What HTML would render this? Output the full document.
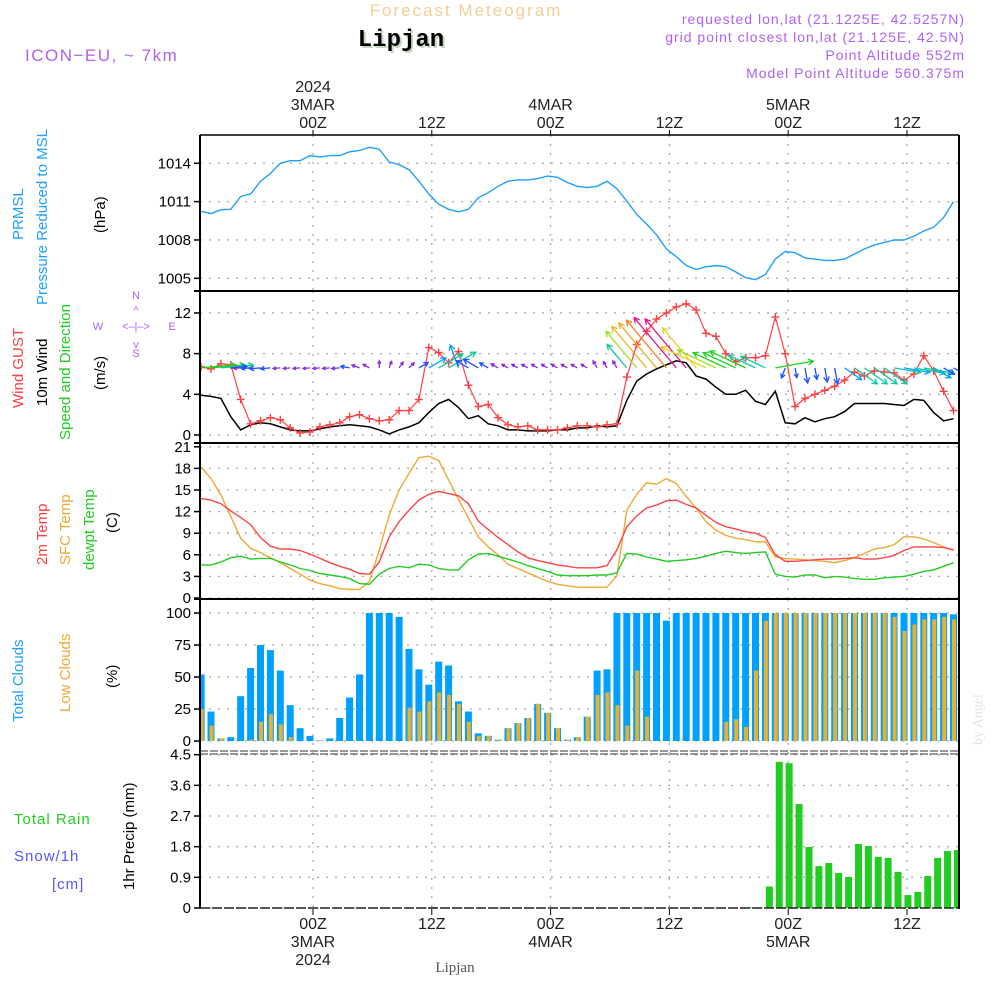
<!DOCTYPE html>
<html><head><meta charset="utf-8">
<style>
html,body{margin:0;padding:0;background:#fff;}
svg{display:block;font-family:"Liberation Sans",sans-serif;}
</style></head>
<body>
<svg id="chart" width="1000" height="1000" viewBox="0 0 1000 1000" xmlns="http://www.w3.org/2000/svg">
<rect x="0" y="0" width="1000" height="1000" fill="#fff"/>
<text x="466" y="16" text-anchor="middle" font-size="17" fill="#f2cf95" letter-spacing="2">Forecast Meteogram</text>
<text x="403" y="48" text-anchor="middle" font-size="24" font-weight="bold" font-family="Liberation Mono,monospace" fill="#c8d8c0">Lipjan</text>
<text x="401" y="46" text-anchor="middle" font-size="24" font-weight="bold" font-family="Liberation Mono,monospace" fill="#000">Lipjan</text>
<text x="25" y="61" font-size="17" fill="#b060f0" letter-spacing="1.5">ICON−EU, ~ 7km</text>
<g font-size="14" fill="#b060f0" text-anchor="end" letter-spacing="1">
<text x="965" y="24">requested lon,lat (21.1225E, 42.5257N)</text>
<text x="965" y="42">grid point closest lon,lat (21.125E, 42.5N)</text>
<text x="965" y="60">Point Altitude 552m</text>
<text x="965" y="78">Model Point Altitude 560.375m</text>
</g>
<text transform="translate(982,745) rotate(-90)" font-size="14" fill="#e4e4e4" font-family="Liberation Serif,serif">by Angel</text>
<text x="455" y="972" text-anchor="middle" font-size="15" fill="#555" font-family="Liberation Serif,serif">Lipjan</text>

<g font-size="15">
<text transform="translate(23,240) rotate(-90)" fill="#1ea0ff">PRMSL</text>
<text transform="translate(47,305) rotate(-90)" fill="#1ea0ff">Pressure Reduced to MSL</text>
<text transform="translate(105,233) rotate(-90)" fill="#000">(hPa)</text>
<text transform="translate(23,408) rotate(-90)" fill="#ff4040">Wind GUST</text>
<text transform="translate(47,406) rotate(-90)" fill="#000">10m Wind</text>
<text transform="translate(70,440) rotate(-90)" fill="#22cc22">Speed and Direction</text>
<text transform="translate(105,390) rotate(-90)" fill="#000">(m/s)</text>
<text transform="translate(47,565) rotate(-90)" fill="#ff4040">2m Temp</text>
<text transform="translate(70,565) rotate(-90)" fill="#f0a830">SFC Temp</text>
<text transform="translate(94,570) rotate(-90)" fill="#22cc22">dewpt Temp</text>
<text transform="translate(117,533) rotate(-90)" fill="#000">(C)</text>
<text transform="translate(23,722) rotate(-90)" fill="#1ea0ff">Total Clouds</text>
<text transform="translate(70,712) rotate(-90)" fill="#f0a830">Low Clouds</text>
<text transform="translate(117,688) rotate(-90)" fill="#000">(%)</text>
<text transform="translate(134,890) rotate(-90)" fill="#000">1hr Precip (mm)</text>
<text x="14" y="824" fill="#22cc22" letter-spacing="1">Total   Rain</text>
<text x="14" y="861" fill="#5555ff" letter-spacing="1">Snow/1h</text>
<text x="52" y="889" fill="#5555ff" letter-spacing="1">[cm]</text>
</g>
<g font-size="11" fill="#b060f0" stroke="none">
<text x="136" y="299" text-anchor="middle">N</text>
<text x="136" y="357" text-anchor="middle">S</text>
<text x="98" y="330" text-anchor="middle">W</text>
<text x="172" y="330" text-anchor="middle">E</text>
<text x="136" y="330" text-anchor="middle">&lt;–|–&gt;</text>
<text x="136" y="314" text-anchor="middle">^</text>
<text x="136" y="348" text-anchor="middle">v</text>
</g>
<g id="plot"></g>
</svg>
<script>
const NS = "http://www.w3.org/2000/svg";
const hours = Array.from({length:77},(_,i)=>i-11);
const pressure = [1010.24,1010.06,1010.37,1010.4,1011.4,1011.6,1012.6,1013.2,1014.0,1014.2,1014.2,
1014.6,1014.5,1014.6,1014.6,1014.9,1015.0,1015.25,1015.1,1014.1,1013.9,1013.5,1012.6,
1011.6,1010.8,1010.4,1010.2,1010.4,1011.3,1011.7,1012.2,1012.6,1012.7,1012.7,1012.8,
1013.0,1012.9,1012.5,1012.2,1012.1,1012.2,1012.6,1012.0,1011.05,1010.0,1009.25,1008.4,
1007.3,1006.7,1006.0,1005.7,1005.9,1006.0,1005.9,1005.5,1005.05,1004.9,1005.3,1006.5,
1007.1,1007.0,1006.6,1006.5,1006.4,1006.4,1006.5,1006.9,1007.3,1007.6,1007.8,1008.0,
1008.0,1008.3,1008.7,1009.0,1009.75,1011.0];
const gust = [6.7,6.5,7.0,6.9,3.5,1.1,1.4,1.7,1.5,0.7,0.2,
0.3,0.8,1.0,1.2,1.8,2.0,1.6,1.4,1.5,2.4,2.4,3.5,
8.6,8.1,7.1,8.2,4.9,2.8,3.0,1.7,1.0,0.8,0.9,0.5,
0.5,0.5,0.7,0.9,0.9,0.8,1.0,1.1,5.7,8.9,10.2,11.4,
12.0,12.6,12.9,12.3,10.0,9.7,8.0,7.2,7.6,7.6,7.8,11.6,
8.0,2.8,3.6,4.0,4.4,4.8,5.4,6.2,5.8,6.3,6.2,6.1,
5.4,6.0,7.8,6.3,4.3,2.4];
const wind = [3.9,3.8,3.6,1.8,0.5,1.0,1.2,1.1,0.8,0.5,0.4,
0.4,0.6,0.8,0.9,1.0,0.9,0.8,0.5,0.1,0.5,0.8,1.2,
2.2,3.1,3.5,2.7,1.6,1.9,1.1,0.9,0.5,0.5,0.4,0.4,
0.4,0.5,0.5,0.7,0.7,0.9,0.8,0.9,3.4,5.3,6.0,6.5,
6.9,7.3,7.1,5.8,5.5,4.7,4.0,4.0,4.4,3.3,3.0,4.3,
1.2,1.1,1.7,1.3,1.6,1.8,2.3,3.1,3.1,3.1,3.1,3.0,
2.9,3.5,3.4,2.2,1.4,1.6];
const windDir = [85,85,85,85,
265,265,265,265,265,265,265,265,265,265,265,
280,290,300,0,20,35,45,60,60,60,60,340,
300,300,300,300,300,300,300,300,300,300,300,300,300,
330,330,330,320,320,320,320,320,320,320,320,
295,295,295,295,295,295,295,80,200,
170,170,170,170,170,125,125,125,125,125,100,100,100,100,120,120,120];
const temp2m = [13.8,13.6,13.1,12.1,11.2,10.2,8.4,7.2,6.8,6.8,6.6,
6.1,5.5,4.9,4.4,4.0,3.4,3.3,5.0,8.5,10.6,12.2,13.6,
14.4,14.8,14.5,14.2,13.1,10.7,9.5,8.4,7.4,6.4,5.6,5.2,
4.9,4.6,4.4,4.2,4.2,4.2,4.5,6.7,9.9,11.4,12.5,12.9,
13.5,13.6,13.0,12.5,11.5,10.5,9.9,9.6,9.2,9.0,8.4,6.0,
5.1,5.1,5.2,5.3,5.4,5.4,5.5,5.6,5.4,5.4,5.6,5.9,
6.6,7.1,7.1,7.1,7.0,6.7];
const sfcTemp = [18.2,16.6,14.3,11.3,8.3,6.9,6.3,5.6,4.9,4.1,3.3,
2.5,2.0,1.7,1.3,1.2,1.2,2.3,6.7,11.5,15.0,17.3,19.5,
19.7,19.1,16.4,13.7,11.1,8.5,7.1,6.0,4.7,4.1,3.5,2.9,
2.3,1.9,1.7,1.5,1.5,1.5,1.5,3.1,12.2,14.4,16.0,15.8,
16.6,15.9,14.1,12.5,10.6,9.4,8.7,8.3,8.1,7.8,7.8,5.7,
5.5,5.4,5.3,5.2,5.1,4.9,5.2,5.6,6.2,6.8,7.0,7.4,
8.5,8.5,8.2,7.7,7.1,6.6];
const dewpt = [4.6,4.6,5.0,5.6,5.8,5.4,5.5,5.5,5.0,4.6,4.1,
3.8,3.4,3.2,3.0,2.7,2.0,1.9,3.3,4.1,4.4,4.2,4.7,
4.6,4.1,3.9,3.9,5.3,6.1,6.2,5.8,5.4,5.0,4.5,4.1,
3.7,3.2,3.1,3.1,3.1,3.2,3.2,3.5,6.2,6.1,5.7,5.4,
5.1,5.2,5.3,5.5,5.8,6.2,6.5,6.3,6.2,6.3,6.4,3.3,
3.0,2.9,3.2,3.2,2.8,3.0,2.9,2.7,2.6,2.6,2.8,2.9,
3.0,3.3,3.7,3.9,4.4,4.9];
const totalClouds = [52,23,2,3,35,57,75,71,55,28,10,
4,0.5,2,18,34,52,100,100,100,97,72,56,
44,62,59,31,23,6,4,1,10,14,18,29,
22,10,1,3,19,55,56,100,100,100,100,100,
94,100,100,100,100,100,100,100,100,100,100,100,
100,100,100,100,100,100,100,100,100,100,100,100,
100,100,100,100,100,99];
const lowClouds = [25,12,2,0,0,1,15,21,13,3,0,
0,0.5,0,0,0,0,0,0,0,0,26,23,
31,38,36,29,15,4,4,1,10,14,18,29,
22,10,1,3,19,36,38,28,12,55,19,0,
0,0,0,0,0,0,15,17,11,55,94,100,
100,100,100,100,100,100,100,100,100,100,100,97,
86,91,95,95,97,95];
const precip = [0,0,0,0,0,0,0,0,0,0,0,
0,0,0,0,0,0,0,0,0,0,0,0,
0.03,0,0,0,0,0,0,0,0,0,0,0,
0,0,0,0,0,0,0,0,0,0,0,0,
0,0,0,0,0,0,0,0,0.02,0.02,0.63,4.29,
4.25,3.05,1.79,1.23,1.32,1.03,0.91,1.88,1.82,1.5,1.47,1.06,
0.38,0.47,0.94,1.47,1.67,1.7];
const pressTicks = [1005,1008,1011,1014];
const windTicks = [0,4,8,12];
const tempTicks = [0,3,6,9,12,15,18,21];
const cloudTicks = [0,25,50,75,100];
const precipTicks = ["0","0.9","1.8","2.7","3.6","4.5"];
const timeTicks = [0,12,24,36,48,60];
const topLabels = [["2024","3MAR","00Z"],["","","12Z"],["","4MAR","00Z"],["","","12Z"],["","5MAR","00Z"],["","","12Z"]];
const botLabels = [["00Z","3MAR","2024"],["12Z","",""],["00Z","4MAR",""],["12Z","",""],["00Z","5MAR",""],["12Z","",""]];

const X0=200, X1=959;
const xOf = h => 310 + 9.9*h;
const xGrid = h => 313 + 9.9*h;
const yP = p => 278.3 - (p-1005)*12.78;
const yW = v => 435 - v*10.17;
const yT = t => 598 - t*7.2;
const yC = c => 741 - c*1.28;
const yR = r => 908 - r*34.07;
const panels = [[135,290],[291,443],[444,598],[599,750],[752,909]];

const plot = document.getElementById('plot');
function mk(tag, attrs, parent){
  const e=document.createElementNS(NS,tag);
  for(const k in attrs) e.setAttribute(k,attrs[k]);
  (parent||plot).appendChild(e); return e;
}
const defs = mk('defs',{});
const cp = mk('clipPath',{id:'clip'},defs);
mk('rect',{x:X0,y:135,width:X1-X0,height:775},cp);

const grid = mk('g',{stroke:'#aaa','stroke-width':1.3,'stroke-dasharray':'2,7'});


timeTicks.forEach(h=>{ panels.forEach(p=>{ mk('line',{x1:xGrid(h),x2:xGrid(h),y1:p[0],y2:p[1]},grid); }); });
function hgrid(vals, f){ vals.forEach(v=>mk('line',{x1:X0,x2:X1,y1:f(+v),y2:f(+v)},grid)); }
hgrid(pressTicks,yP); hgrid(windTicks,yW); hgrid(tempTicks,yT); hgrid(cloudTicks,yC); hgrid(precipTicks,yR);

function yticks(vals,f,name){
  const g=mk('g',{'font-size':15,'text-anchor':'end',fill:'#000'});
  
  
  vals.forEach(v=>{
    const y=f(+v);
    mk('line',{x1:194,x2:200,y1:y,y2:y,stroke:'#000','stroke-width':1.5},g);
    const t=mk('text',{x:191,y:y+5},g); t.textContent=v;
  });
}
yticks(pressTicks,yP,'pressure-y-axis');
yticks(windTicks,yW,'wind-y-axis');
yticks(tempTicks,yT,'temp-y-axis');
yticks(cloudTicks,yC,'cloud-y-axis');
yticks(precipTicks,yR,'precip-y-axis');

const tl=mk('g',{'font-size':16,'text-anchor':'middle',fill:'#222'});


timeTicks.forEach((h,i)=>{
  const x=xGrid(h);
  topLabels[i].forEach((s,j)=>{ if(s){const t=mk('text',{x:x,y:92+j*18},tl); t.textContent=s;} });
  botLabels[i].forEach((s,j)=>{ if(s){const t=mk('text',{x:x,y:929+j*18},tl); t.textContent=s;} });
  mk('line',{x1:x,x2:x,y1:130,y2:135,stroke:'#000'},tl);
  mk('line',{x1:x,x2:x,y1:909,y2:915,stroke:'#000'},tl);
});

const data = mk('g',{'clip-path':'url(#clip)'});
function line(vals,f,color,name,w){
  const d=vals.map((v,i)=>(i?'L':'M')+xOf(hours[i]).toFixed(1)+','+f(v).toFixed(1)).join('');
  const p=mk('path',{d:d,fill:'none',stroke:color,'stroke-width':w||1.4},data);
  
  
  return p;
}
line(pressure,yP,'#1ea0ff','pressure-line');
line(wind,yW,'#000','wind-speed-line',1.5);
line(gust,yW,'#ff4040','wind-gust-line',1.2);
gust.forEach((v,i)=>{
  const x=xOf(hours[i]), y=yW(v);
  const m=mk('path',{d:`M${x-4},${y}H${x+4}M${x},${y-4}V${y+4}`,stroke:'#ff4040','stroke-width':1.4},data);
  
  
});
function spdColor(s){
  if(s<1) return '#8a2be2'; if(s<2) return '#2050ff'; if(s<3) return '#00a0ff';
  if(s<3.8) return '#10c8a0'; if(s<4.6) return '#20d020'; if(s<5.5) return '#a0e020';
  if(s<6) return '#e8d020'; if(s<6.6) return '#f0b020'; if(s<7) return '#f08020'; return '#e81090';
}
const yBase = yW(6.6);
windDir.forEach((d,i)=>{
  const s=wind[i], L=Math.max(7,s*9), a=d*Math.PI/180;
  const x=xOf(hours[i]), y=yBase;
  const x2=x+L*Math.sin(a), y2=y-L*Math.cos(a);
  const hl=Math.min(6,L*0.45), b1=a+Math.PI-0.5, b2=a+Math.PI+0.5;
  const c=spdColor(s);
  const g=mk('path',{d:`M${x},${y}L${x2},${y2}M${x2+hl*Math.sin(b1)},${y2-hl*Math.cos(b1)}L${x2},${y2}L${x2+hl*Math.sin(b2)},${y2-hl*Math.cos(b2)}`,stroke:c,'stroke-width':1.3,fill:'none'},data);
  
  
});
line(sfcTemp,yT,'#f0a830','sfc-temp-line');
line(temp2m,yT,'#ff4444','temp-2m-line');
line(dewpt,yT,'#22cc22','dewpoint-line');
totalClouds.forEach((v,i)=>{
  const x=xOf(hours[i]);
  const r=mk('rect',{x:x-3.5,y:yC(v),width:7,height:yC(0)-yC(v),fill:'#00a0ff'},data);
  
  
});
lowClouds.forEach((v,i)=>{
  const x=xOf(hours[i]);
  const r=mk('rect',{x:x-1.5,y:yC(v),width:4,height:yC(0)-yC(v),fill:'#e8b030'},data);
  
  
});
precip.forEach((v,i)=>{
  if(v<=0) return;
  const x=xOf(hours[i]+0.4);
  const r=mk('rect',{x:x-3.5,y:yR(v),width:7,height:yR(0)-yR(v),fill:'#22cc22'},data);
  
  
});

const fr=mk('g',{stroke:'#000',fill:'none'});


mk('line',{x1:X0,x2:X0,y1:135,y2:909,'stroke-width':2},fr);
mk('line',{x1:X1,x2:X1,y1:135,y2:909,'stroke-width':2},fr);
mk('line',{x1:X0,x2:X1,y1:135,y2:135,'stroke-width':1.5},fr);
[291,443,599].forEach(y=>mk('line',{x1:X0-6,x2:X1,y1:y,y2:y,'stroke-width':2},fr));
mk('line',{x1:X0,x2:X1,y1:751,y2:751,'stroke-width':1,'stroke-dasharray':'8,2','stroke':'#333'},fr);
mk('line',{x1:X0,x2:X1,y1:754,y2:754,'stroke-width':1,'stroke-dasharray':'8,2','stroke':'#333'},fr);
mk('line',{x1:X0,x2:X1,y1:908,y2:908,'stroke-width':1.5,'stroke-dasharray':'10,2','stroke':'#222'},fr);
</script>
</body></html>
